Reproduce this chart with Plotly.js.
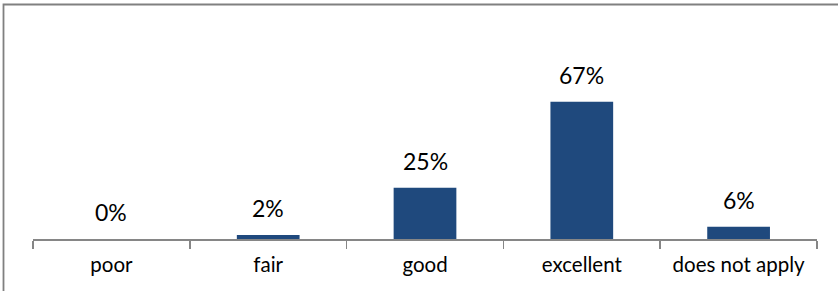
<!DOCTYPE html>
<html>
<head>
<meta charset="utf-8">
<script src="https://cdn.plot.ly/plotly-3.0.1.min.js"></script>
<style>
html,body{margin:0;padding:0;background:#fff;}
#chart{width:838px;height:291px;}
</style>
</head>
<body>
<div id="chart"></div>
<script>
const categories = ["poor", "fair", "good", "excellent", "does not apply"];
const values = [0, 2, 25, 67, 6];
const valueLabels = ["0%", "2%", "25%", "67%", "6%"];

const fontFamily = "Lato, 'Open Sans', sans-serif";

const trace = {
  type: "bar",
  x: categories,
  y: values,
  width: 0.4,
  marker: {color: "#1F497D", line: {width: 0}},
  hoverinfo: "none"
};

const annotations = categories.map((c, i) => ({
  x: c, y: values[i], xref: "x", yref: "y",
  text: valueLabels[i], showarrow: false,
  yanchor: "middle", yshift: 27,
  font: {family: fontFamily, size: 23, color: "#000"}
}));

const layout = {
  width: 838, height: 291,
  margin: {l: 33, r: 21, t: 75, b: 52, pad: 0},
  paper_bgcolor: "#fff", plot_bgcolor: "#fff",
  showlegend: false,
  bargap: 0.6,
  xaxis: {
    type: "category",
    showline: true, linecolor: "#868686", linewidth: 1.5,
    ticks: "outside", tickson: "boundaries", ticklen: 8, tickcolor: "#868686", tickwidth: 1.5,
    ticklabelstandoff: 7,
    showgrid: false, zeroline: false,
    tickfont: {family: fontFamily, size: 20.5, color: "#000"},
    fixedrange: true
  },
  yaxis: {
    range: [0, 80], visible: false, showgrid: false, zeroline: false, fixedrange: true
  },
  annotations: annotations,
  shapes: [{
    type: "rect", xref: "paper", yref: "paper",
    x0: -29.5/784, x1: 1 + 40/784,
    y0: -80/164, y1: 1 + 70.5/164,
    line: {color: "#808080", width: 1.8}, fillcolor: "rgba(0,0,0,0)"
  }]
};

Plotly.newPlot("chart", [trace], layout, {displayModeBar: false, staticPlot: true});
</script>
</body>
</html>
